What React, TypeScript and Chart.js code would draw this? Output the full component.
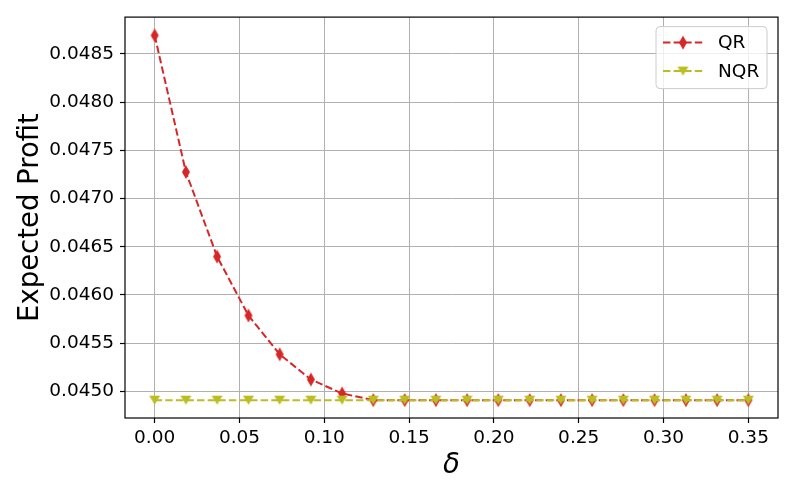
import React, { useEffect, useRef } from "react";
import { Chart, registerables } from "chart.js";

Chart.register(...registerables);

// ---- data ----
const deltaValues = [
  0, 0.0184, 0.0368, 0.0553, 0.0737, 0.0921, 0.1105, 0.1289, 0.1474, 0.1658,
  0.1842, 0.2026, 0.2211, 0.2395, 0.2579, 0.2763, 0.2947, 0.3132, 0.3316, 0.35,
];
const qrProfit = [
  0.04869, 0.047274, 0.046398, 0.045787, 0.045385, 0.045124, 0.044979, 0.04491,
  0.04491, 0.04491, 0.04491, 0.04491, 0.04491, 0.04491, 0.04491, 0.04491,
  0.04491, 0.04491, 0.04491, 0.04491,
];
const nqrProfit = [
  0.04491, 0.04491, 0.04491, 0.04491, 0.04491, 0.04491, 0.04491, 0.04491,
  0.04491, 0.04491, 0.04491, 0.04491, 0.04491, 0.04491, 0.04491, 0.04491,
  0.04491, 0.04491, 0.04491, 0.04491,
];
const xTickValues = [0, 0.05, 0.1, 0.15, 0.2, 0.25, 0.3, 0.35];
const yTickValues = [0.045, 0.0455, 0.046, 0.0465, 0.047, 0.0475, 0.048, 0.0485];
const seriesLabels = ["QR", "NQR"];
const seriesColors = ["#d62728", "#bcbd22"];
const xAxisTitle = "δ";
const yAxisTitle = "Expected Profit";

const FONT = "'DejaVu Sans', sans-serif";

function makeMarker(kind: string, color: string): HTMLCanvasElement {
  const c = document.createElement("canvas");
  const ctx = c.getContext("2d")!;
  if (kind === "diamond") {
    c.width = 10;
    c.height = 16;
    ctx.beginPath();
    ctx.moveTo(5, 1);
    ctx.lineTo(9, 8);
    ctx.lineTo(5, 15);
    ctx.lineTo(1, 8);
    ctx.closePath();
  } else {
    c.width = 13;
    c.height = 11;
    ctx.beginPath();
    ctx.moveTo(1, 1);
    ctx.lineTo(12, 1);
    ctx.lineTo(6.5, 10);
    ctx.closePath();
  }
  ctx.fillStyle = color;
  ctx.fill();
  return c;
}

export default function App() {
  const ref = useRef<HTMLCanvasElement | null>(null);

  useEffect(() => {
    if (!ref.current) return;
    const markers = [
      makeMarker("diamond", seriesColors[0]),
      makeMarker("triangle", seriesColors[1]),
    ];
    const series = [qrProfit, nqrProfit];

    const framePlugin = {
      id: "frameAndLegend",
      afterDatasetsDraw(chart: any) {
        const { ctx, chartArea } = chart;
        ctx.save();
        ctx.strokeStyle = "#000";
        ctx.lineWidth = 1.2;
        ctx.strokeRect(
          chartArea.left,
          chartArea.top,
          chartArea.right - chartArea.left,
          chartArea.bottom - chartArea.top
        );
        // legend
        const bx = chartArea.right - 122;
        const by = chartArea.top + 9.5;
        const bw = 111;
        const bh = 62;
        const r = 4;
        ctx.beginPath();
        ctx.moveTo(bx + r, by);
        ctx.lineTo(bx + bw - r, by);
        ctx.arcTo(bx + bw, by, bx + bw, by + r, r);
        ctx.lineTo(bx + bw, by + bh - r);
        ctx.arcTo(bx + bw, by + bh, bx + bw - r, by + bh, r);
        ctx.lineTo(bx + r, by + bh);
        ctx.arcTo(bx, by + bh, bx, by + bh - r, r);
        ctx.lineTo(bx, by + r);
        ctx.arcTo(bx, by, bx + r, by, r);
        ctx.closePath();
        ctx.fillStyle = "rgba(255,255,255,0.8)";
        ctx.fill();
        ctx.strokeStyle = "#cccccc";
        ctx.lineWidth = 1;
        ctx.stroke();
        chart.data.datasets.forEach((ds: any, i: number) => {
          const y = by + 16 + i * 28.5;
          const x0 = bx + 7;
          const x1 = bx + 47;
          ctx.save();
          ctx.strokeStyle = ds.borderColor;
          ctx.lineWidth = 2;
          ctx.setLineDash([7.4, 3.2]);
          ctx.beginPath();
          ctx.moveTo(x0, y);
          ctx.lineTo(x1, y);
          ctx.stroke();
          ctx.restore();
          const m = ds.pointStyle as HTMLCanvasElement;
          ctx.drawImage(m, (x0 + x1) / 2 - m.width / 2, y - m.height / 2);
          ctx.fillStyle = "#000";
          ctx.font = `18.5px ${FONT}`;
          ctx.textBaseline = "middle";
          ctx.textAlign = "left";
          ctx.fillText(ds.label, bx + 62, y + 1);
        });
        ctx.restore();
      },
    };

    const chart = new Chart(ref.current, {
      type: "line",
      data: {
        datasets: seriesLabels.map((label, i) => ({
          label,
          data: deltaValues.map((x, j) => ({ x, y: series[i][j] })),
          borderColor: seriesColors[i],
          backgroundColor: seriesColors[i],
          borderWidth: 2,
          borderDash: [7.4, 3.2],
          pointStyle: markers[i] as any,
          pointRadius: 5,
          pointHoverRadius: 5,
          tension: 0,
          fill: false,
          order: i === 0 ? 1 : 0,
        })),
      },
      options: {
        responsive: false,
        animation: false,
        devicePixelRatio: 1,
        layout: { padding: { left: 0, top: 15, right: 15, bottom: 0 } },
        plugins: {
          legend: { display: false },
          tooltip: { enabled: false },
        },
        scales: {
          x: {
            type: "linear",
            min: -0.0175,
            max: 0.3675,
            afterBuildTicks: (scale: any) => {
              scale.ticks = xTickValues.map((v) => ({ value: v }));
            },
            afterFit: (scale: any) => {
              scale.height = 78;
            },
            ticks: {
              color: "#000",
              font: { family: FONT, size: 18.5 },
              padding: 4,
              maxRotation: 0,
              autoSkip: false,
              callback: (v: any) => Number(v).toFixed(2),
            },
            grid: {
              color: "#b0b0b0",
              lineWidth: 1,
              tickColor: "#000",
              tickLength: 5,
              tickWidth: 1.2,
            },
            border: { display: false },
            title: {
              display: true,
              text: xAxisTitle,
              color: "#000",
              font: { family: FONT, size: 27.5, style: "italic" },
              padding: { top: 0, bottom: 14 },
            },
          },
          y: {
            type: "linear",
            min: 0.044725,
            max: 0.04888,
            afterBuildTicks: (scale: any) => {
              scale.ticks = yTickValues.map((v) => ({ value: v }));
            },
            afterFit: (scale: any) => {
              scale.width = 125;
            },
            ticks: {
              color: "#000",
              font: { family: FONT, size: 18.5 },
              padding: 6,
              autoSkip: false,
              callback: (v: any) => Number(v).toFixed(4),
            },
            grid: {
              color: "#b0b0b0",
              lineWidth: 1,
              tickColor: "#000",
              tickLength: 5,
              tickWidth: 1.2,
            },
            border: { display: false },
            title: {
              display: true,
              text: yAxisTitle,
              color: "#000",
              font: { family: FONT, size: 27.5 },
              padding: { top: 14, bottom: 0 },
            },
          },
        },
      },
      plugins: [framePlugin],
    });
    return () => chart.destroy();
  }, []);

  return (
    <div style={{ position: "absolute", left: 0, top: 0, width: 793, height: 496, background: "#fff" }}>
      <canvas ref={ref} width={793} height={496} />
    </div>
  );
}
